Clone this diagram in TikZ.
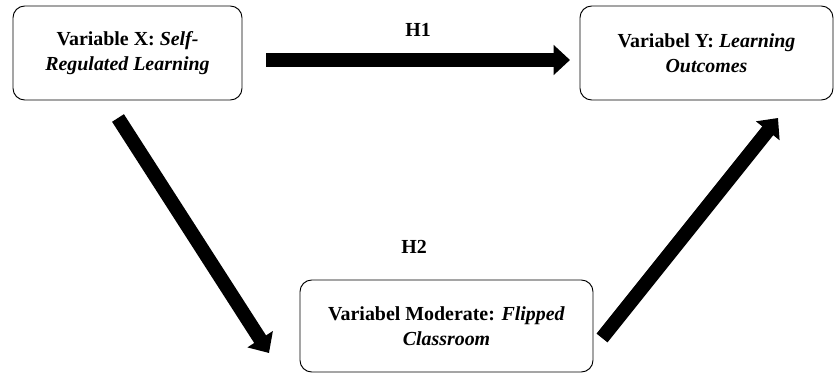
\documentclass[tikz,border=0pt]{standalone}
\usepackage{fontspec}
\setmainfont{Liberation Serif}
\usepackage{tikz}
\usetikzlibrary{arrows.meta}

\tikzset{
	varbox/.style={draw, rounded corners=10pt, line width=0.8pt, align=center, font=\fontsize{17}{21.5}\selectfont\bfseries, inner sep=0pt},
	hlabel/.style={font=\fontsize{17}{20}\selectfont\bfseries},
	bigarrow/.style={line width=12pt, -{Triangle[length=14pt, width=25pt]}},
}

\begin{document}
\begin{tikzpicture}[x=0.03cm, y=-0.03cm]
	\useasboundingbox (0,0) rectangle (835,374);
	\node[varbox, minimum width=229*0.03cm, minimum height=94*0.03cm] (x) at (127.5,53) {Variable X: \textit{Self-}\\ \textit{Regulated Learning}};
	\node[varbox, minimum width=253*0.03cm, minimum height=94*0.03cm] (y) at (706.5,53) {Variabel Y: \textit{Learning}\\ \textit{Outcomes}};
	\node[varbox, minimum width=293*0.03cm, minimum height=92*0.03cm] (m) at (446.5,326) {Variabel Moderate: \textit{Flipped}\\ \textit{Classroom}};
	\coordinate (h1s) at (266,60);
	\coordinate (h1e) at (570,60);
	\coordinate (xs) at (118,118);
	\coordinate (me) at (269,353);
	\coordinate (ms) at (602,338);
	\coordinate (ye) at (778,118);
	\draw [bigarrow] (h1s) -- (h1e) node[midway, yshift=0.9cm, hlabel] (h1) {H1};
	\draw [bigarrow] (xs) -- (me);
	\draw [bigarrow] (ms) -- (ye);
	\node[hlabel] (h2) at (414,247) {H2};
\end{tikzpicture}
\end{document}
